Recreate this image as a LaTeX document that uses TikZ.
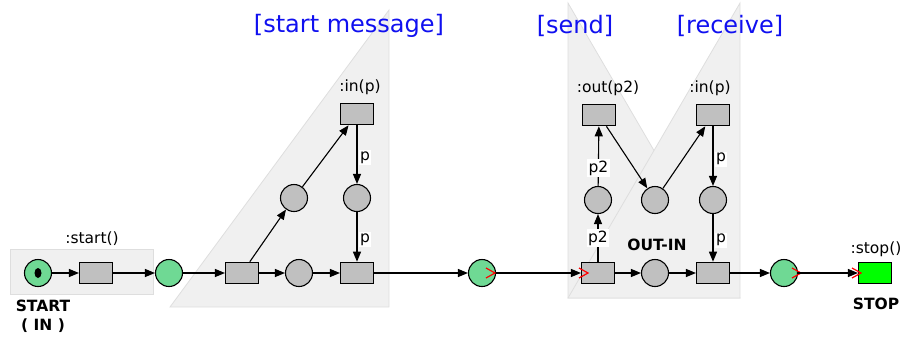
\documentclass[tikz,border=0pt]{standalone}
\usepackage{fontspec}
\setmainfont{DejaVu Sans}
\usetikzlibrary{arrows.meta}
\definecolor{pgreen}{RGB}{111,217,148}
\definecolor{tgray}{RGB}{192,192,192}
\definecolor{bgfill}{RGB}{240,240,240}
\definecolor{bgline}{RGB}{222,222,222}
\definecolor{hblue}{RGB}{16,16,240}
\begin{document}
\begin{tikzpicture}[x=1pt,y=-1pt,
  place/.style={circle,draw,line width=1.1pt,fill=tgray,minimum size=27pt,inner sep=0pt},
  gplace/.style={place,fill=pgreen},
  trans/.style={rectangle,draw,line width=1.1pt,fill=tgray,minimum width=33pt,minimum height=21.5pt,inner sep=0pt},
  lbl/.style={font=\fontsize{15.5}{18}\selectfont,inner sep=0pt},
  blbl/.style={font=\fontsize{15.5}{18}\selectfont\bfseries,inner sep=0pt},
  arc/.style={line width=1.1pt,-{Triangle[length=10pt,width=8pt]}},
  elbl/.style={font=\fontsize{15.5}{18}\selectfont,fill=white,inner sep=1.5pt},
  head/.style={font=\fontsize{24}{28}\selectfont,text=hblue,inner sep=0pt},
  region/.style={fill=bgfill,draw=bgline,line width=0.8pt},
  chev/.style={draw=red,line width=1.2pt}
]
\useasboundingbox (0,0) rectangle (903,338);

% background regions
\draw[region] (10,249) rectangle (153,294);
\draw[region] (170,307) -- (389,307) -- (389,10) -- cycle;
\draw[region] (568,3) -- (740,298) -- (568,298) -- cycle;
\draw[region] (740,3) -- (568,298) -- (740,298) -- cycle;

% headings
\node[head] (hstart) at (349,26) {[start message]};
\node[head] (hsend) at (575,26) {[send]};
\node[head] (hrecv) at (730,26) {[receive]};

% places and transitions
\node[gplace] (start) at (38,273) {};
\fill (start.center) ellipse [x radius=3.5pt, y radius=5pt];
\node[trans] (tstart) at (96,273) {};
\node[gplace] (g1) at (169,273) {};
\node[trans] (t1) at (242,273) {};
\node[place] (pa) at (294,198) {};
\node[trans] (tin1) at (357,114) {};
\node[place] (pb) at (357,198) {};
\node[place] (pc) at (299,273) {};
\node[trans] (t2) at (357,273) {};
\node[gplace] (g2) at (482,273) {};
\node[trans] (t3) at (598,273) {};
\node[place] (pd) at (655,273) {};
\node[trans] (t4) at (713,273) {};
\node[place] (pe) at (598,200) {};
\node[trans] (tout) at (599,115) {};
\node[place] (pf) at (655,200) {};
\node[trans] (tin2) at (713,115) {};
\node[place] (pg) at (713,200) {};
\node[gplace] (g3) at (784,273) {};
\node[trans,fill=green] (tstop) at (875,273) {};

% red marks
\draw[chev] (486,268) -- (495,273) -- (486,278);
\draw[chev] (579,268) -- (588,273) -- (579,278);
\draw[chev] (792,268) -- (801,273) -- (792,278);
\draw[chev] (852,268) -- (861,273) -- (852,278);

% labels
\node[lbl] (lstart) at (92,239) {:start()};
\node[blbl] (lSTART) at (43,306) {START};
\node[blbl] (lIN) at (43,326) {( IN )};
\node[lbl] (lin1) at (360,87) {:in(p)};
\node[lbl] (lout) at (608,88) {:out(p2)};
\node[lbl] (lin2) at (710,88) {:in(p)};
\node[blbl] (loutin) at (657,245) {OUT-IN};
\node[lbl] (lstop) at (876,249) {:stop()};
\node[blbl] (lSTOP) at (876,304) {STOP};

% arcs
\draw[arc] (start) -- (tstart);
\draw[arc] (tstart) -- (g1);
\draw[arc] (g1) -- (t1);
\draw[arc] (t1) -- (pc);
\draw[arc] (pc) -- (t2);
\draw[arc] (t1) -- (pa);
\draw[arc] (pa) -- (tin1);
\draw[arc] (tin1) -- node[elbl,pos=0.55,anchor=west,xshift=1pt] {p} (pb);
\draw[arc] (pb) -- node[elbl,pos=0.55,anchor=west,xshift=1pt] {p} (t2);
\draw[arc] (t2) -- (g2);
\draw[arc] (g2) -- (t3);
\draw[arc] (t3) -- node[elbl,pos=0.5] {p2} (pe);
\draw[arc] (pe) -- node[elbl,pos=0.3] {p2} (tout);
\draw[arc] (tout) -- (pf);
\draw[arc] (pf) -- (tin2);
\draw[arc] (tin2) -- node[elbl,pos=0.55,anchor=west,xshift=1pt] {p} (pg);
\draw[arc] (pg) -- node[elbl,pos=0.55,anchor=west,xshift=1pt] {p} (t4);
\draw[arc] (t3) -- (pd);
\draw[arc] (pd) -- (t4);
\draw[arc] (t4) -- (g3);
\draw[arc] (g3) -- (tstop);
\end{tikzpicture}
\end{document}
